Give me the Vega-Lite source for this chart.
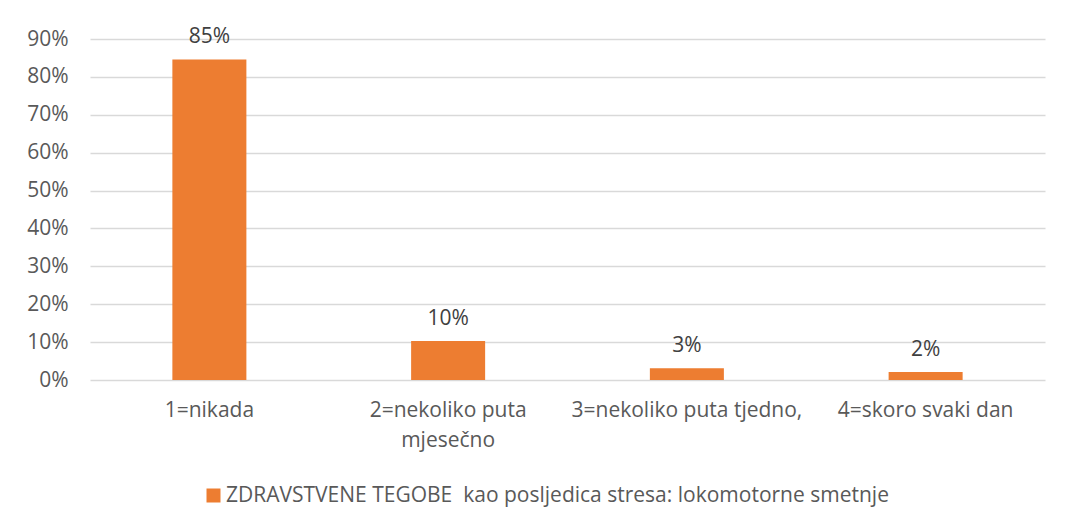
{
  "$schema": "https://vega.github.io/schema/vega-lite/v6.json",
  "autosize": {"type": "none"},
  "width": 955,
  "height": 341,
  "padding": {"left": 90, "top": 39, "right": 22, "bottom": 146},
  "background": "white",
  "data": {
    "values": [
      {"kategorija": "1=nikada", "udio": 0.846, "serija": "ZDRAVSTVENE TEGOBE\u00a0 kao posljedica stresa: lokomotorne smetnje"},
      {"kategorija": "2=nekoliko puta mjesečno", "udio": 0.103, "serija": "ZDRAVSTVENE TEGOBE\u00a0 kao posljedica stresa: lokomotorne smetnje"},
      {"kategorija": "3=nekoliko puta tjedno,", "udio": 0.031, "serija": "ZDRAVSTVENE TEGOBE\u00a0 kao posljedica stresa: lokomotorne smetnje"},
      {"kategorija": "4=skoro svaki dan", "udio": 0.021, "serija": "ZDRAVSTVENE TEGOBE\u00a0 kao posljedica stresa: lokomotorne smetnje"}
    ]
  },
  "encoding": {
    "x": {
      "field": "kategorija",
      "type": "nominal",
      "sort": null,
      "scale": {"paddingInner": 0.69, "paddingOuter": 0.345},
      "axis": {
        "title": null,
        "domain": false,
        "ticks": false,
        "labelAngle": 0,
        "labelPadding": 19,
        "labelFontSize": 21,
        "labelFont": "Open Sans",
        "labelColor": "#595959",
        "labelLineHeight": 30,
        "labelLimit": 300,
        "labelExpr": "datum.value == '2=nekoliko puta mjesečno' ? ['2=nekoliko puta', 'mjesečno'] : datum.value"
      }
    },
    "y": {
      "field": "udio",
      "type": "quantitative",
      "scale": {"domain": [0, 0.9], "nice": false},
      "axis": {
        "title": null,
        "format": ".0%",
        "values": [0, 0.1, 0.2, 0.3, 0.4, 0.5, 0.6, 0.7, 0.8, 0.9],
        "domain": false,
        "ticks": false,
        "labelPadding": 22,
        "labelFontSize": 21,
        "labelFont": "Open Sans",
        "labelColor": "#595959",
        "gridColor": "#d9d9d9",
        "gridWidth": 1.3
      }
    }
  },
  "layer": [
    {
      "mark": {"type": "bar"},
      "encoding": {
        "color": {
          "field": "serija",
          "type": "nominal",
          "scale": {"range": ["#ED7D31"]},
          "legend": {
            "title": null,
            "orient": "none",
            "legendX": 113,
            "legendY": 446,
            "symbolType": "square",
            "symbolSize": 196,
            "symbolStrokeWidth": 0,
            "labelFontSize": 21,
            "labelFont": "Open Sans",
            "labelColor": "#595959",
            "labelLimit": 900,
            "labelOffset": 2
          }
        }
      }
    },
    {
      "mark": {"type": "text", "baseline": "bottom", "dy": -12, "fontSize": 21, "font": "Open Sans", "color": "#404040"},
      "encoding": {
        "text": {"field": "udio", "type": "quantitative", "format": ".0%"}
      }
    }
  ],
  "config": {"view": {"stroke": null}}
}
